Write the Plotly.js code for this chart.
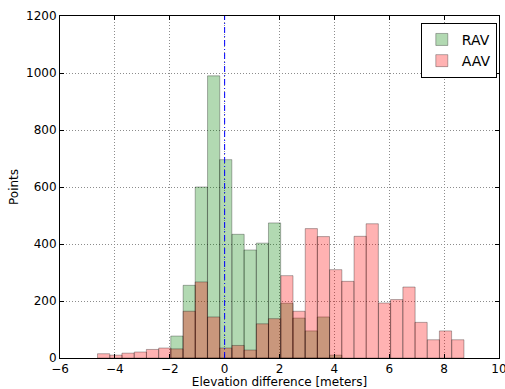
<!DOCTYPE html>
<html>
<head>
<meta charset="utf-8">
<script src="https://cdn.plot.ly/plotly-3.0.1.min.js"></script>
<style>html,body{margin:0;padding:0;background:#fff;}#chart{width:505px;height:389px;}</style>
</head>
<body>
<div id="chart"></div>
<script>
// Bin width (meters) shared by both histograms
var binWidth = 0.445;

// RAV histogram: bin centers and counts
var ravCenters = [-1.74, -1.29, -0.85, -0.40, 0.04, 0.49, 0.93, 1.38, 1.82, 2.27, 2.71, 3.16, 3.60, 4.05];
var ravCounts  = [77, 255, 600, 990, 696, 434, 379, 403, 474, 192, 140, 95, 144, 10];

// AAV histogram: bin centers and counts
var aavCenters = [-4.41, -3.96, -3.52, -3.07, -2.63, -2.18, -1.74, -1.29, -0.85, -0.40,
                  0.04, 0.49, 0.93, 1.38, 1.82, 2.27, 2.71, 3.16, 3.60, 4.05,
                  4.49, 4.94, 5.38, 5.83, 6.27, 6.72, 7.16, 7.61, 8.05, 8.50];
var aavCounts  = [15, 10, 17, 21, 30, 35, 32, 164, 267, 144,
                  35, 44, 28, 120, 138, 289, 164, 454, 426, 310,
                  269, 427, 471, 193, 205, 249, 125, 64, 95, 64];

var xTicks = [-6, -4, -2, 0, 2, 4, 6, 8, 10];
var yTicks = [0, 200, 400, 600, 800, 1000, 1200];

var font = "DejaVu Sans, sans-serif";

var traces = [
  {
    type: "bar", name: "RAV", x: ravCenters, y: ravCounts,
    width: ravCenters.map(function(){return binWidth;}),
    marker: {color: "rgba(0,128,0,0.3)", line: {color: "rgba(0,0,0,0.3)", width: 1}},
    hoverinfo: "skip"
  },
  {
    type: "bar", name: "AAV", x: aavCenters, y: aavCounts,
    width: aavCenters.map(function(){return binWidth;}),
    marker: {color: "rgba(255,0,0,0.3)", line: {color: "rgba(0,0,0,0.3)", width: 1}},
    hoverinfo: "skip"
  }
];

var axisCommon = {
  showline: true, linecolor: "#000", linewidth: 1, mirror: "ticks",
  ticks: "inside", ticklen: 4, tickcolor: "#000",
  showgrid: true, gridcolor: "#8c8c8c", griddash: "1px,2px", gridwidth: 1,
  zeroline: false, tickfont: {family: font, size: 12, color: "#000"},
  ticklabeloverflow: "allow"
};

var layout = {
  width: 505, height: 389,
  margin: {l: 60, r: 6, t: 16, b: 31},
  paper_bgcolor: "#fff", plot_bgcolor: "#fff",
  barmode: "overlay", bargap: 0,
  font: {family: font, size: 12, color: "#000"},
  xaxis: Object.assign({}, axisCommon, {
    range: [-6, 10], tickmode: "array", tickvals: xTicks,
    title: {text: "Elevation difference [meters]", font: {family: font, size: 12, color: "#000"}, standoff: 2}
  }),
  yaxis: Object.assign({}, axisCommon, {
    range: [0, 1200], tickmode: "array", tickvals: yTicks,
    title: {text: "Points", font: {family: font, size: 12, color: "#000"}, standoff: 4}
  }),
  legend: {
    x: 0.995, y: 0.98, xanchor: "right", yanchor: "top",
    bgcolor: "#fff", bordercolor: "#000", borderwidth: 1,
    font: {family: font, size: 14, color: "#000"}
  },
  shapes: [{
    type: "line", xref: "x", yref: "paper", x0: 0, x1: 0, y0: 0, y1: 1,
    line: {color: "#0000ff", width: 1, dash: "6px,3px,1px,3px"}
  }],
  showlegend: true
};

Plotly.newPlot("chart", traces, layout, {displayModeBar: false, staticPlot: true});
</script>
</body>
</html>
